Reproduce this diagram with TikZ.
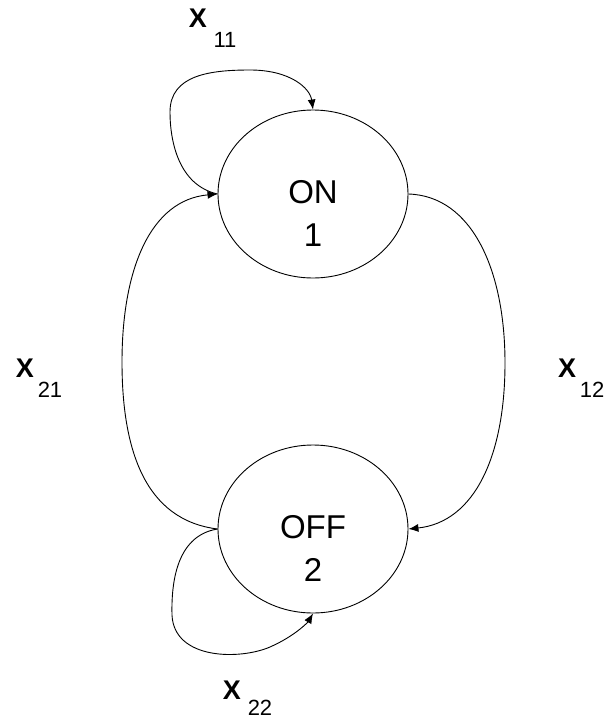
\documentclass[tikz,border=0pt]{standalone}
\usepackage{fontspec}
\setmainfont{Liberation Sans}
\usetikzlibrary{arrows.meta,shapes.geometric}
\begin{document}
\begin{tikzpicture}[x=1pt,y=-1pt,
  state/.style={draw,ellipse,line width=0.9pt,minimum width=190pt,minimum height=168pt,inner sep=0pt},
  stext/.style={font=\fontsize{33}{38}\selectfont,inner sep=0pt},
  xlab/.style={font=\fontsize{27}{30}\selectfont\bfseries,inner sep=0pt},
  sublab/.style={font=\fontsize{22}{24}\selectfont,inner sep=0pt},
  conn/.style={line width=0.9pt,-{Latex[length=10pt,width=8pt]}}]
\useasboundingbox (0,0) rectangle (608,723);
\node[state] (on) at (313,194) {};
\node[state] (off) at (313,529) {};
\node[stext] (ontxt) at (313,192) {ON};
\node[stext] (onnum) at (313,235) {1};
\node[stext] (offtxt) at (313,527) {OFF};
\node[stext] (offnum) at (313,570) {2};
% self loop on ON
\draw[conn] (on.west) .. controls (178,185) and (170,140) .. (170,112)
  .. controls (170,75) and (210,70) .. (250,70)
  .. controls (290,70) and (310,88) .. (on.north);
% x21 arc
\draw[conn] (off.west) .. controls (145,520) and (122,450) .. (122,362)
  .. controls (122,270) and (150,200) .. (on.west);
% x12 arc
\draw[conn] (on.east) .. controls (472,196) and (505,270) .. (505,363)
  .. controls (505,455) and (475,522) .. (off.east);
% self loop on OFF
\draw[conn] (off.west) .. controls (180,535) and (171,575) .. (172,615)
  .. controls (174,660) and (240,660) .. (270,647)
  .. controls (295,636) and (308,622) .. (off.south);
% labels
\node[xlab] (x11) at (198,18) {X};
\node[sublab] (s11) at (225,40) {11};
\node[xlab] (x21) at (25,368) {X};
\node[sublab] (s21) at (50,390) {21};
\node[xlab] (x12) at (567,368) {X};
\node[sublab] (s12) at (592,390) {12};
\node[xlab] (x22) at (232,690) {X};
\node[sublab] (s22) at (260,708) {22};
\end{tikzpicture}
\end{document}
